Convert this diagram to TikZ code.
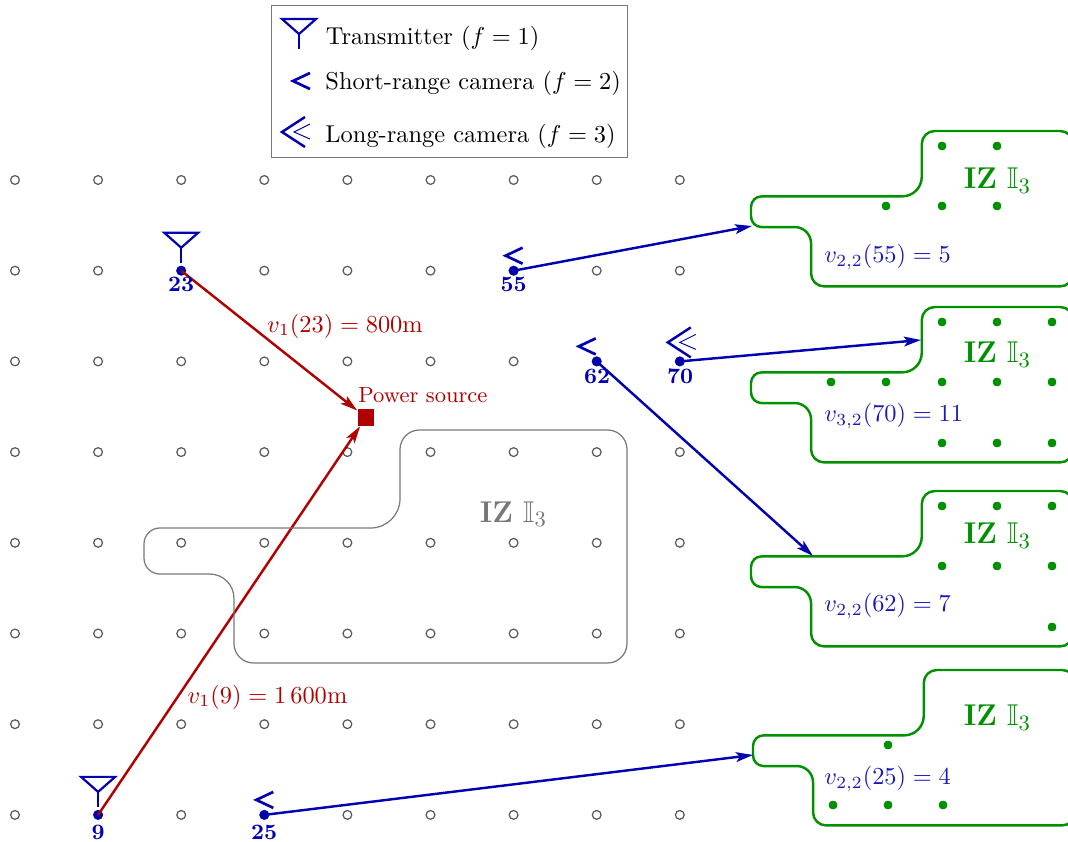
\documentclass[tikz,border=0pt]{standalone}
\usepackage{amsmath}
\usepackage{amssymb}
\usetikzlibrary{arrows.meta}
\definecolor{blue}{RGB}{0,0,176}
\definecolor{red}{RGB}{176,0,0}
\definecolor{green}{RGB}{0,144,0}
\definecolor{gray}{RGB}{120,120,120}
\newcommand{\izoutline}[4]{
    \draw[#1] (#2+350*#4,#3) [rounded corners=#4*8pt] -- (#2+483*#4,#3) -- (#2+483*#4,#3+233*#4) -- (#2+90*#4,#3+233*#4)
        [rounded corners=#4*10pt] -- (#2+90*#4,#3+144*#4)
        [rounded corners=#4*6.5pt] -- (#2,#3+144*#4) -- (#2,#3+98*#4)
        [rounded corners=#4*12pt] -- (#2+256*#4,#3+98*#4)
        [rounded corners=#4*8pt] -- (#2+256*#4,#3) -- cycle;
}
\tikzset{
    gridpt/.style={circle, draw=black!65, line width=0.5pt, fill=white, inner sep=0pt, minimum size=3.6pt},
    sitept/.style={circle, fill=blue, inner sep=0pt, minimum size=4pt},
    zonept/.style={circle, fill=green, inner sep=0pt, minimum size=3.4pt},
    sitelabel/.style={text=blue, font=\small\bfseries, inner sep=0pt},
    link/.style={-{Stealth[length=7pt,width=4pt,inset=1.6pt]}, line width=1pt},
    legendtext/.style={anchor=west, inner sep=0pt},
    zonetext/.style={inner sep=0pt, font=\fontsize{12.3}{14}\selectfont},
    valuetext/.style={blue!90!white, inner sep=0pt, anchor=west},
    pics/transmitter/.style={code={
        \draw[blue, line width=0.9pt] (-17,-38) -- (17,-38) -- (0,-23) -- cycle;
        \draw[blue, line width=0.9pt] (0,-23) -- (0,-8);
    }},
    pics/shortcam/.style={code={
        \draw[blue, line width=1.1pt] (9,-23) -- (-8,-15) -- (9,-7);
    }},
    pics/longcam/.style={code={
        \draw[blue, line width=1pt] (11,-34) -- (-12,-19) -- (11,-4);
        \draw[blue, line width=0.4pt] (16,-27) -- (0,-19) -- (16,-12);
    }},
}

\begin{document}
\begin{tikzpicture}[x=0.0144cm, y=-0.0144cm]
    \clip (0,0) rectangle (1068,842);

    % legend
    \node[draw=gray, line width=0.5pt, minimum width=5.13cm, minimum height=2.19cm, inner sep=0pt] (legend) at (449.5,81.5) {};
    \pic at (299,57) {transmitter};
    \pic at (301,96) {shortcam};
    \pic at (294,151) {longcam};
    \node[legendtext] (ltx) at (325.5,38) {Transmitter ($f=1$)};
    \node[legendtext] (lsr) at (325,83) {Short-range camera ($f=2$)};
    \node[legendtext] (llr) at (325,136) {Long-range camera ($f=3$)};

    % grid of candidate sites
    \foreach \i in {0,...,8}
        \foreach \j in {0,...,7}
            \node[gridpt] (n\i-\j) at (15+83.1*\i, 180+90.7*\j) {};

    % power source and transmitters
    \node[fill=red, inner sep=0pt, minimum size=6.8pt] (power) at (366,417.5) {};
    \node[red, inner sep=0pt, anchor=west, font=\small] (powerlabel) at (358,395) {Power source};
    \node[sitept] (s23) at (n2-1) {};
    \node[sitept] (s9) at (n1-7) {};
    \node[sitept] (s55) at (n6-1) {};
    \node[sitept] (s62) at (n7-2) {};
    \node[sitept] (s70) at (n8-2) {};
    \node[sitept] (s25) at (n3-7) {};
    \draw[link, red] (s23.center) -- (power);
    \draw[link, red] (s9.center) -- (power);
    \node[red, inner sep=0pt] (v23) at (345,326) {$v_1(23)=800$m};
    \node[red, inner sep=0pt] (v9) at (267.5,697) {$v_1(9)=1\,600$m};
    \pic at (s23) {transmitter};
    \pic at (s9) {transmitter};
    \pic at (s55) {shortcam};
    \pic[shift={(-10,0)}] at (s62) {shortcam};
    \pic at (s25) {shortcam};
    \pic at (s70) {longcam};
    \node[sitelabel] at (181,284) {23};
    \node[sitelabel] at (98,832) {9};
    \node[sitelabel] at (513.5,284.5) {55};
    \node[sitelabel] at (597,376) {62};
    \node[sitelabel] at (680,376) {70};
    \node[sitelabel] at (264,832) {25};

    % interest zone on the grid
    \izoutline{gray, line width=0.5pt}{144}{430}{1}
    \node[gray, zonetext] (izmain) at (513.5,514) {\textbf{IZ} $\mathbb{I}_3$};

    % zones seen by the cameras
    \foreach \ox/\oy in {751/131, 751/307, 751/491, 753/670}
        \izoutline{green, line width=1pt}{\ox}{\oy}{0.667}
    \foreach \x/\y in {942/146, 997/146, 886/206, 942/206, 997/206,
        942/322, 997/322, 1052/322, 831/382, 886/382, 942/382, 997/382, 1052/382, 942/443, 997/443, 1052/443,
        942/506, 997/506, 1052/506, 942/566, 997/566, 1052/566, 1052/627,
        888/745, 833/805, 888/805, 943/805}
        \node[zonept] at (\x,\y) {};
    \foreach \y in {180.5, 354.5, 535.5, 717.5}
        \node[green, zonetext] at (997.5,\y) {\textbf{IZ} $\mathbb{I}_3$};

    \node[valuetext] (v55) at (824,257) {$v_{2,2}(55)=5$};
    \node[valuetext] (v70) at (824,416) {$v_{3,2}(70)=11$};
    \node[valuetext] (v62) at (824,606) {$v_{2,2}(62)=7$};
    \node[valuetext] (v25) at (824,779) {$v_{2,2}(25)=4$};

    \coordinate (in55) at (752,226);
    \coordinate (in70) at (921,340);
    \coordinate (in62) at (813,556);
    \coordinate (in25) at (753,755);
    \draw[link, blue] (s55.center) -- (in55);
    \draw[link, blue] (s70.center) -- (in70);
    \draw[link, blue] (s62.center) -- (in62);
    \draw[link, blue] (s25.center) -- (in25);
\end{tikzpicture}
\end{document}
